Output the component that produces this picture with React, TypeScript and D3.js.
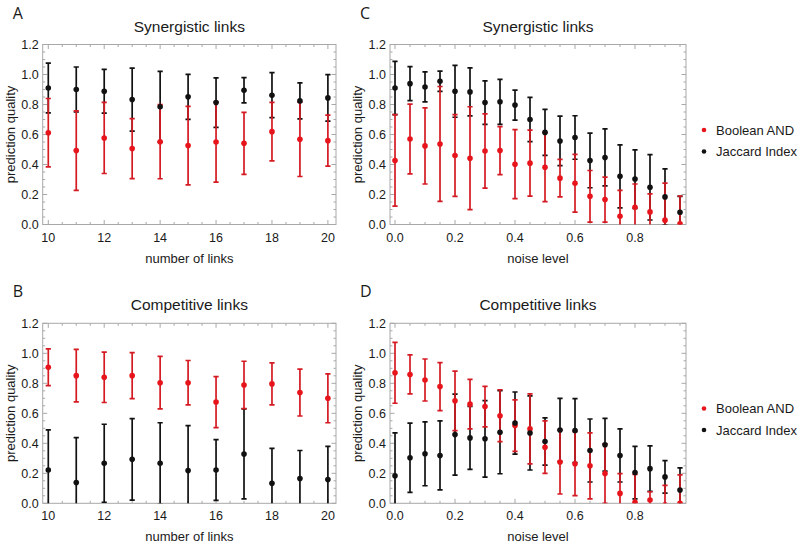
import React from "react";
import * as d3 from "d3";

// ---------- data ----------
const linkCounts = [10, 11, 12, 13, 14, 15, 16, 17, 18, 19, 20];
const noiseLevels = [0, 0.05, 0.1, 0.15, 0.2, 0.25, 0.3, 0.35, 0.4, 0.45, 0.5, 0.55, 0.6, 0.65, 0.7, 0.75, 0.8, 0.85, 0.9, 0.95];

// A: synergistic links vs number of links
const synLinksAndMean = [0.612, 0.493, 0.577, 0.506, 0.552, 0.526, 0.55, 0.541, 0.619, 0.568, 0.559];
const synLinksAndErr = [0.228, 0.265, 0.237, 0.2, 0.247, 0.262, 0.267, 0.207, 0.195, 0.248, 0.17];
const synLinksJacMean = [0.91, 0.9, 0.888, 0.833, 0.785, 0.851, 0.813, 0.895, 0.862, 0.824, 0.844];
const synLinksJacErr = [0.166, 0.15, 0.146, 0.21, 0.236, 0.15, 0.165, 0.084, 0.15, 0.12, 0.155];

// B: competitive links vs number of links
const compLinksAndMean = [0.907, 0.851, 0.84, 0.851, 0.804, 0.804, 0.675, 0.789, 0.796, 0.738, 0.7];
const compLinksAndErr = [0.123, 0.175, 0.168, 0.153, 0.175, 0.148, 0.17, 0.158, 0.14, 0.156, 0.163];
const compLinksJacMean = [0.222, 0.138, 0.267, 0.293, 0.267, 0.218, 0.222, 0.329, 0.133, 0.165, 0.159];
const compLinksJacErr = [0.267, 0.3, 0.26, 0.272, 0.27, 0.3, 0.203, 0.3, 0.233, 0.187, 0.22];

// C: synergistic links vs noise level
const synNoiseAndMean = [0.427, 0.57, 0.524, 0.537, 0.46, 0.442, 0.49, 0.493, 0.402, 0.409, 0.382, 0.309, 0.275, 0.188, 0.166, 0.055, 0.115, 0.084, 0.029, 0.005];
const synNoiseAndErr = [0.305, 0.232, 0.254, 0.383, 0.273, 0.343, 0.248, 0.16, 0.23, 0.22, 0.23, 0.125, 0.192, 0.172, 0.15, 0.173, 0.155, 0.12, 0.247, 0.185];
const synNoiseJacMean = [0.91, 0.939, 0.917, 0.955, 0.888, 0.884, 0.813, 0.818, 0.796, 0.7, 0.614, 0.557, 0.58, 0.427, 0.447, 0.321, 0.303, 0.248, 0.184, 0.082];
const synNoiseJacErr = [0.177, 0.113, 0.1, 0.067, 0.173, 0.16, 0.145, 0.15, 0.1, 0.147, 0.153, 0.165, 0.145, 0.182, 0.19, 0.21, 0.195, 0.218, 0.187, 0.106];

// D: competitive links vs noise level
const compNoiseAndMean = [0.87, 0.859, 0.822, 0.778, 0.683, 0.661, 0.645, 0.584, 0.518, 0.496, 0.374, 0.275, 0.264, 0.25, 0.198, 0.066, 0.007, 0.022, -0.01, 0.0];
const compNoiseAndErr = [0.203, 0.13, 0.14, 0.16, 0.198, 0.165, 0.135, 0.173, 0.172, 0.233, 0.175, 0.213, 0.213, 0.22, 0.198, 0.132, 0.185, 0.055, 0.13, 0.19];
const compNoiseJacMean = [0.183, 0.304, 0.33, 0.319, 0.458, 0.436, 0.43, 0.474, 0.535, 0.469, 0.412, 0.489, 0.485, 0.352, 0.39, 0.319, 0.205, 0.231, 0.176, 0.088];
const compNoiseJacErr = [0.286, 0.231, 0.213, 0.23, 0.27, 0.21, 0.255, 0.277, 0.207, 0.247, 0.158, 0.211, 0.213, 0.21, 0.176, 0.177, 0.175, 0.152, 0.108, 0.148];

const seriesNames = ["Boolean AND", "Jaccard Index"];
const yTickValues = [0, 0.2, 0.4, 0.6, 0.8, 1.0, 1.2];
const linkTickValues = [10, 12, 14, 16, 18, 20];
const noiseTickValues = [0, 0.2, 0.4, 0.6, 0.8];

// ---------- style ----------
const RED_BAR = "#d41a22";
const RED_PT = "#e8141c";
const BLACK = "#111111";
const FRAME = "#a8a8a8";
const TEXT = "#1a1a1a";
const FONT = "'Liberation Sans', Arial, sans-serif";

type PanelProps = {
  id: string;
  letter: string;
  title: string;
  xLabel: string;
  xs: number[];
  xDomain: [number, number];
  xRange: [number, number];
  yRange: [number, number];
  xTicks: number[];
  xMinorStep: number;
  xFmt: (v: number) => string;
  andMean: number[];
  andErr: number[];
  jacMean: number[];
  jacErr: number[];
};

function Panel(p: PanelProps) {
  const x = d3.scaleLinear().domain(p.xDomain).range(p.xRange);
  const y = d3.scaleLinear().domain([0, 1.2]).range(p.yRange);
  const [x0, x1] = p.xRange;
  const [yb, yt] = p.yRange;
  const xMinor = d3
    .range(Math.ceil(p.xDomain[0] / p.xMinorStep - 1e-9), Math.floor(p.xDomain[1] / p.xMinorStep + 1e-9) + 1)
    .map((k) => k * p.xMinorStep);
  const yMinor = d3.range(0, 25).map((k) => k * 0.05);
  const isMajorX = (v: number) => p.xTicks.some((t) => Math.abs(t - v) < 1e-6);
  const isMajorY = (v: number) => yTickValues.some((t) => Math.abs(t - v) < 1e-6);
  const cap = 2.6;
  const clipId = `clip-${p.id}`;

  const bars = (mean: number[], err: number[], color: string, key: string) =>
    mean.map((m, i) => {
      const cx = x(p.xs[i]);
      const top = y(m + err[i]);
      const bot = y(m - err[i]);
      return (
        <g key={`${key}${i}`} stroke={color} strokeWidth={1.7}>
          <line x1={cx} x2={cx} y1={top} y2={bot} />
          <line x1={cx - cap} x2={cx + cap} y1={top} y2={top} />
          <line x1={cx - cap} x2={cx + cap} y1={bot} y2={bot} />
        </g>
      );
    });
  const pts = (mean: number[], color: string, key: string) =>
    mean.map((m, i) => <circle key={`${key}${i}`} cx={x(p.xs[i])} cy={y(m)} r={2.8} fill={color} />);

  const cxMid = (x0 + x1) / 2;
  const cyMid = (yb + yt) / 2;
  return (
    <g>
      <defs>
        <clipPath id={clipId}>
          <rect x={x0} y={yt} width={x1 - x0} height={yb - yt} />
        </clipPath>
      </defs>
      <text x={x0 - 30} y={yt - 26} fontFamily="'Open Sans', sans-serif" fontSize={16} fill={TEXT}>
        {p.letter}
      </text>
      <text x={cxMid} y={yt - 13} textAnchor="middle" fontFamily={FONT} fontSize={15.5} fill={TEXT}>
        {p.title}
      </text>
      <text x={cxMid} y={yb + 38} textAnchor="middle" fontFamily={FONT} fontSize={13} fill={TEXT}>
        {p.xLabel}
      </text>
      <text
        transform={`translate(${x0 - 28},${cyMid}) rotate(-90)`}
        textAnchor="middle"
        fontFamily={FONT}
        fontSize={13}
        fill={TEXT}
      >
        prediction quality
      </text>
      {/* ticks */}
      <g stroke={FRAME} strokeWidth={1}>
        {xMinor.map((v, i) => {
          const len = isMajorX(v) ? 4.5 : 2.5;
          const px = x(v);
          return (
            <g key={`xt${i}`}>
              <line x1={px} x2={px} y1={yb} y2={yb - len} />
              <line x1={px} x2={px} y1={yt} y2={yt + len} />
            </g>
          );
        })}
        {yMinor.map((v, i) => {
          const len = isMajorY(v) ? 4.5 : 2.5;
          const py = y(v);
          return (
            <g key={`yt${i}`}>
              <line x1={x0} x2={x0 + len} y1={py} y2={py} />
              <line x1={x1} x2={x1 - len} y1={py} y2={py} />
            </g>
          );
        })}
      </g>
      <rect x={x0} y={yt} width={x1 - x0} height={yb - yt} fill="none" stroke={FRAME} strokeWidth={1} />
      {p.xTicks.map((v, i) => (
        <text key={`xl${i}`} x={x(v)} y={yb + 17} textAnchor="middle" fontFamily={FONT} fontSize={12.5} fill={TEXT}>
          {p.xFmt(v)}
        </text>
      ))}
      {yTickValues.map((v, i) => (
        <text key={`yl${i}`} x={x0 - 4} y={y(v) + 4.5} textAnchor="end" fontFamily={FONT} fontSize={12.5} fill={TEXT}>
          {v.toFixed(1)}
        </text>
      ))}
      <g clipPath={`url(#${clipId})`}>
        {bars(p.jacMean, p.jacErr, BLACK, "jb")}
        {bars(p.andMean, p.andErr, RED_BAR, "ab")}
        {pts(p.andMean, RED_PT, "ap")}
        {pts(p.jacMean, BLACK, "jp")}
      </g>
    </g>
  );
}

function Legend({ x, y }: { x: number; y: number }) {
  const colors = [RED_PT, BLACK];
  return (
    <g>
      {seriesNames.map((name, i) => (
        <g key={name}>
          <circle cx={x} cy={y + i * 21.5} r={2.3} fill={colors[i]} />
          <text x={x + 12} y={y + i * 21.5 + 4.5} fontFamily={FONT} fontSize={13} fill={TEXT}>
            {name}
          </text>
        </g>
      ))}
    </g>
  );
}

export default function App() {
  const linkDomain: [number, number] = [9.8, 20.29];
  const noiseDomain: [number, number] = [-0.0167, 0.97];
  const linkRange: [number, number] = [42.7, 336];
  const noiseRange: [number, number] = [390, 686];
  const topY: [number, number] = [224.5, 44.5];
  const botY: [number, number] = [503.3, 323.3];
  const f1 = (v: number) => String(v);
  const f2 = (v: number) => v.toFixed(1);
  return (
    <svg
      width={800}
      height={544}
      style={{ position: "absolute", left: 0, top: 0, background: "#fff" }}
    >
      <rect width={800} height={544} fill="#fff" />
      <Panel id="A" letter="A" title="Synergistic links" xLabel="number of links" xs={linkCounts}
        xDomain={linkDomain} xRange={linkRange} yRange={topY} xTicks={linkTickValues} xMinorStep={0.5} xFmt={f1}
        andMean={synLinksAndMean} andErr={synLinksAndErr} jacMean={synLinksJacMean} jacErr={synLinksJacErr} />
      <Panel id="B" letter="B" title="Competitive links" xLabel="number of links" xs={linkCounts}
        xDomain={linkDomain} xRange={linkRange} yRange={botY} xTicks={linkTickValues} xMinorStep={0.5} xFmt={f1}
        andMean={compLinksAndMean} andErr={compLinksAndErr} jacMean={compLinksJacMean} jacErr={compLinksJacErr} />
      <Panel id="C" letter="C" title="Synergistic links" xLabel="noise level" xs={noiseLevels}
        xDomain={noiseDomain} xRange={noiseRange} yRange={topY} xTicks={noiseTickValues} xMinorStep={0.05} xFmt={f2}
        andMean={synNoiseAndMean} andErr={synNoiseAndErr} jacMean={synNoiseJacMean} jacErr={synNoiseJacErr} />
      <Panel id="D" letter="D" title="Competitive links" xLabel="noise level" xs={noiseLevels}
        xDomain={noiseDomain} xRange={noiseRange} yRange={botY} xTicks={noiseTickValues} xMinorStep={0.05} xFmt={f2}
        andMean={compNoiseAndMean} andErr={compNoiseAndErr} jacMean={compNoiseJacMean} jacErr={compNoiseJacErr} />
      <Legend x={704} y={130} />
      <Legend x={704} y={408.5} />
    </svg>
  );
}
